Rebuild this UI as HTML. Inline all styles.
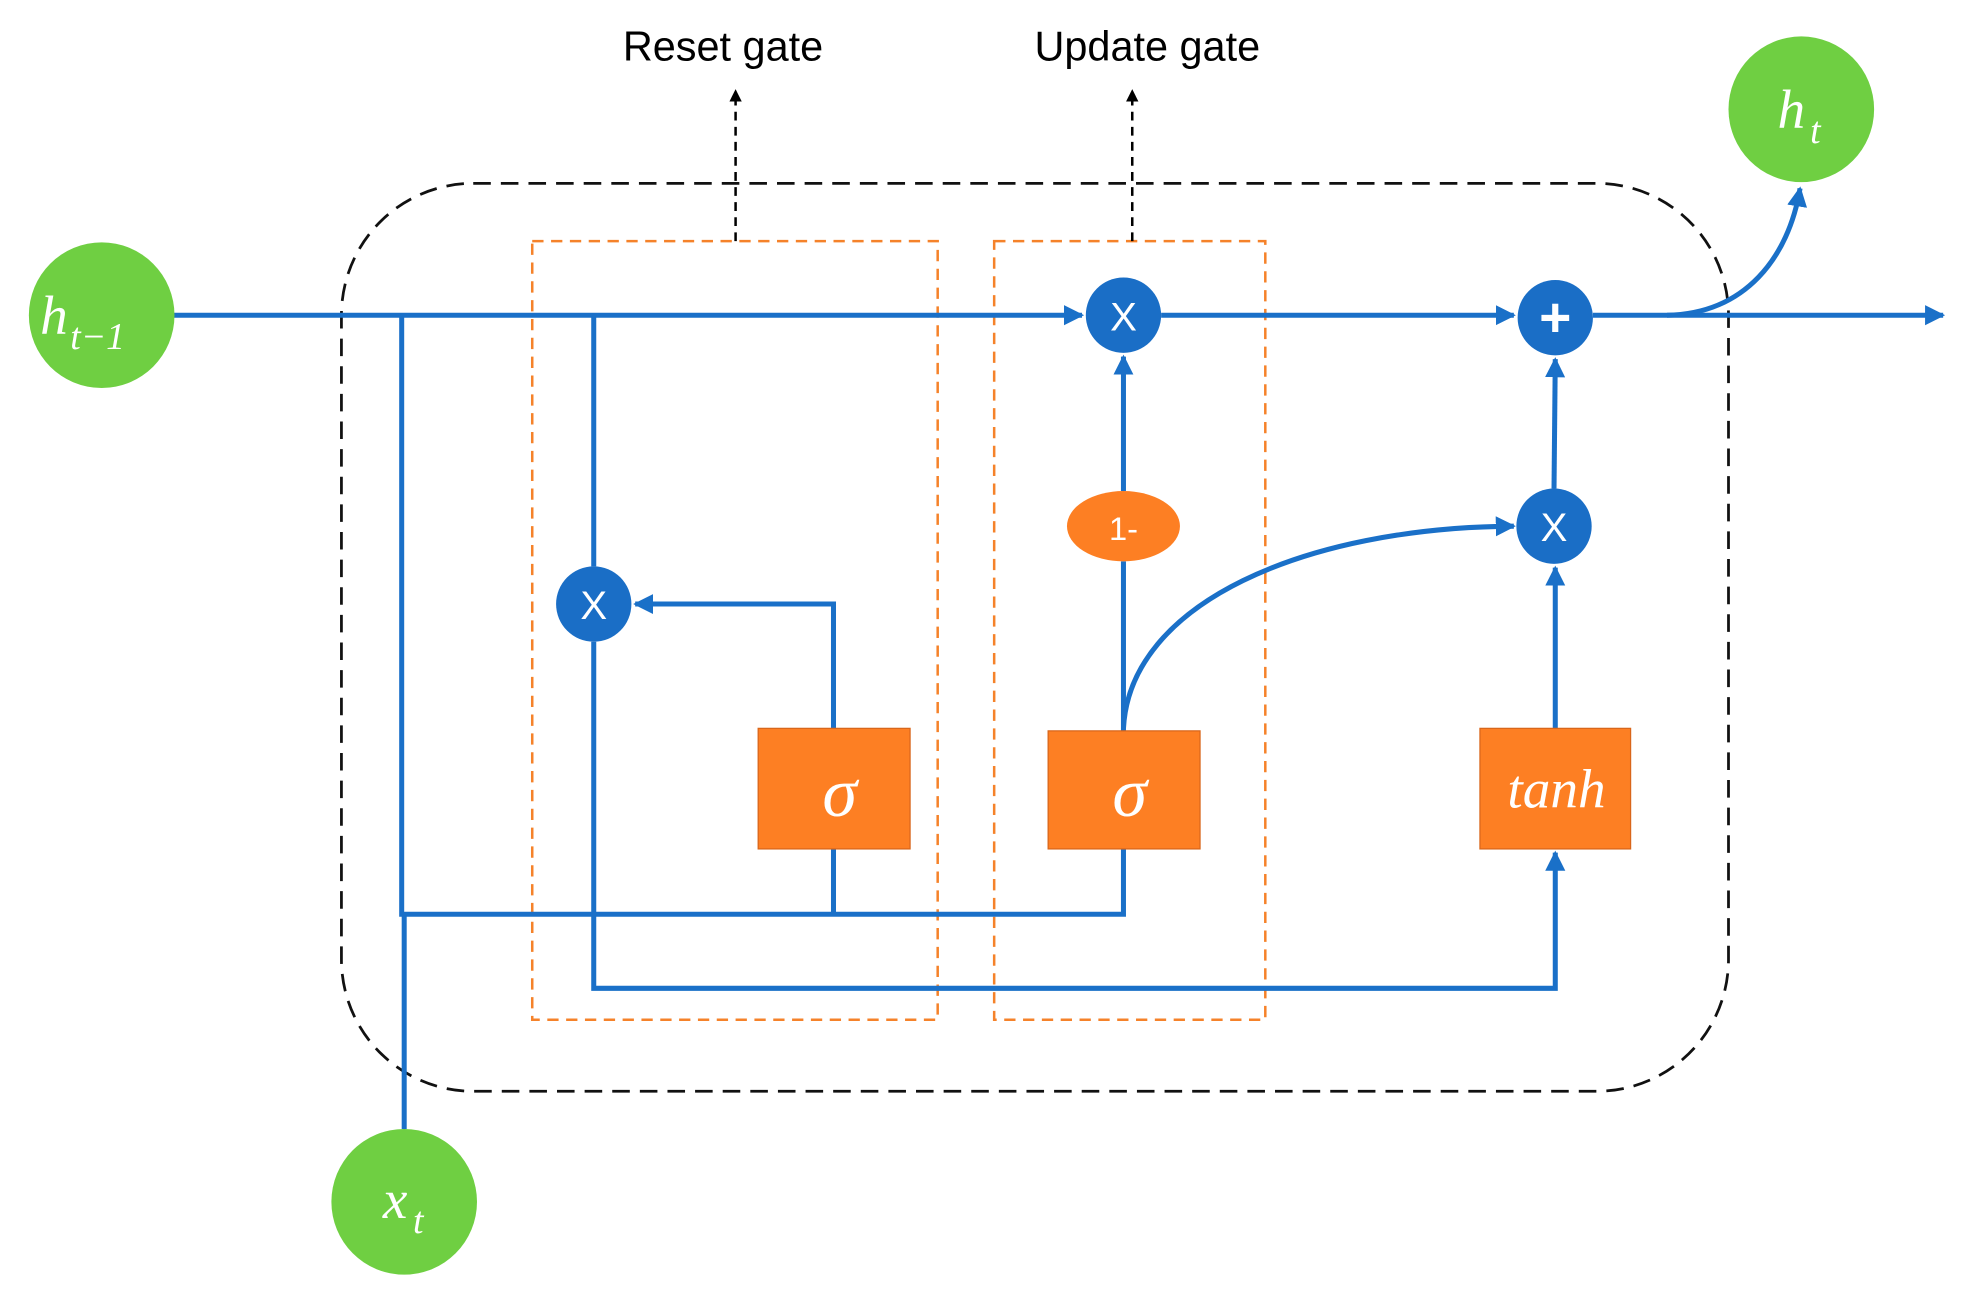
<!DOCTYPE html>
<html><head><meta charset="utf-8"><style>
html,body{margin:0;padding:0;background:#fff;}
svg{display:block;}
</style></head><body>
<svg width="1967" height="1301" viewBox="0 0 1567 1036" preserveAspectRatio="none" xmlns="http://www.w3.org/2000/svg">
<defs>
<marker id="a" viewBox="0 0 10 10" refX="9" refY="5" markerWidth="4" markerHeight="4" orient="auto-start-reverse" markerUnits="strokeWidth"><path d="M0 0L10 5L0 10z" fill="#1a70c8"/></marker>
<marker id="k" viewBox="0 0 10 10" refX="9" refY="5" markerWidth="5" markerHeight="5" orient="auto" markerUnits="strokeWidth"><path d="M0 0L10 5L0 10z" fill="#000"/></marker>
</defs>
<rect width="1567" height="1036" fill="#fff"/>
<rect x="272" y="146" width="1105" height="723" rx="105" fill="none" stroke="#111" stroke-width="2.2" stroke-dasharray="14,8"/>
<rect x="424" y="192" width="323" height="620" fill="none" stroke="#f5822a" stroke-width="2" stroke-dasharray="9,6"/>
<rect x="792" y="192" width="216" height="620" fill="none" stroke="#f5822a" stroke-width="2" stroke-dasharray="9,6"/>
<line x1="586" y1="192" x2="586" y2="72" stroke="#000" stroke-width="2" stroke-dasharray="7,5" marker-end="url(#k)"/>
<line x1="902" y1="192" x2="902" y2="72" stroke="#000" stroke-width="2" stroke-dasharray="7,5" marker-end="url(#k)"/>
<text x="576" y="48" font-family="Liberation Sans, sans-serif" font-size="33" text-anchor="middle" fill="#000">Reset gate</text>
<text x="914" y="48" font-family="Liberation Sans, sans-serif" font-size="33" text-anchor="middle" fill="#000">Update gate</text>
<g fill="none" stroke="#1a70c8" stroke-width="4">
<line x1="138" y1="251" x2="862" y2="251" marker-end="url(#a)"/>
<line x1="925" y1="251" x2="1206" y2="251" marker-end="url(#a)"/>
<line x1="1269" y1="251" x2="1548" y2="251" marker-end="url(#a)"/>
<path d="M1328 251 C1390 250 1425 205 1434 150" marker-end="url(#a)"/>
<path d="M320 251 V728 H895 V676"/>
<line x1="664" y1="728" x2="664" y2="676"/>
<line x1="322" y1="899" x2="322" y2="728"/>
<path d="M664 580 V481 H506" marker-end="url(#a)"/>
<line x1="473" y1="251" x2="473" y2="451"/>
<path d="M473 511 V787 H1239 V679" marker-end="url(#a)"/>
<line x1="895" y1="582" x2="895" y2="447"/>
<line x1="895" y1="391" x2="895" y2="284" marker-end="url(#a)"/>
<path d="M895 580 C900 480 1040 420 1206 419" marker-end="url(#a)"/>
<line x1="1239" y1="580" x2="1239" y2="452" marker-end="url(#a)"/>
<line x1="1238" y1="389" x2="1239" y2="286" marker-end="url(#a)"/>
</g>
<g fill="#1a6ec6">
<ellipse cx="895" cy="251" rx="30" ry="30"/>
<ellipse cx="1239" cy="253" rx="30" ry="30"/>
<ellipse cx="473" cy="481" rx="30" ry="30"/>
<ellipse cx="1238" cy="419" rx="30" ry="30"/>
</g>
<g font-family="Liberation Sans, sans-serif" fill="#fff" text-anchor="middle">
<text x="895" y="263" font-size="32">X</text>
<text x="473" y="493" font-size="32">X</text>
<text x="1238" y="431" font-size="32">X</text>
<text x="1239" y="268" font-size="44" font-weight="bold">+</text>
</g>
<ellipse cx="895" cy="419" rx="45" ry="28" fill="#fd7f23"/>
<text x="895" y="430" font-family="Liberation Sans, sans-serif" font-size="26" fill="#fff" text-anchor="middle">1-</text>
<g fill="#fd7f23" stroke="#d9661a" stroke-width="1">
<rect x="604" y="580" width="121" height="96"/>
<rect x="835" y="582" width="121" height="94"/>
<rect x="1179" y="580" width="120" height="96"/>
</g>
<g font-family="Liberation Serif, serif" font-style="italic" fill="#fff" text-anchor="middle">
<text x="669" y="650" font-size="56">σ</text>
<text x="900" y="650" font-size="56">σ</text>
<text x="1240" y="643" font-size="44">tanh</text>
</g>
<g fill="#6fcf42">
<circle cx="81" cy="251" r="58"/>
<circle cx="1435" cy="87" r="58"/>
<circle cx="322" cy="957" r="58"/>
</g>
<g font-family="Liberation Serif, serif" font-style="italic" fill="#fff">
<text x="32" y="266" font-size="44">h</text>
<text x="56" y="278" font-size="30">t−1</text>
<text x="1416" y="102" font-size="44">h</text>
<text x="1442" y="114" font-size="30">t</text>
<text x="305" y="970" font-size="44">x</text>
<text x="329" y="982" font-size="30">t</text>
</g>
</svg>
</body></html>
